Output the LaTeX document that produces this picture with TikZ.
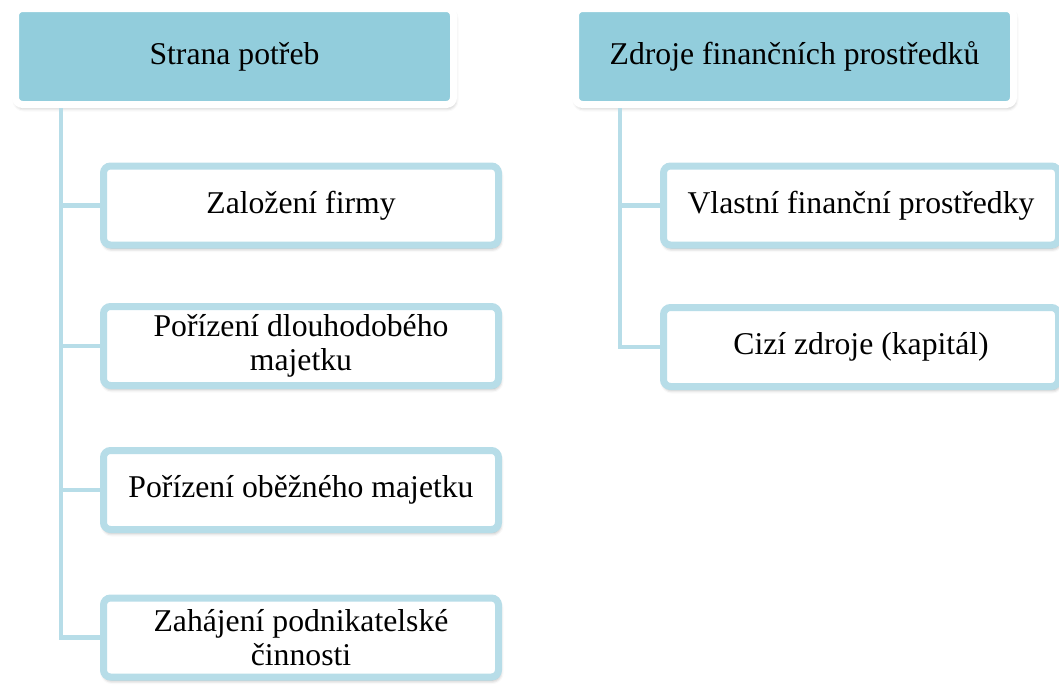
\documentclass[tikz,border=0pt]{standalone}
\usepackage{fontspec}
\setmainfont{Liberation Serif}
\usetikzlibrary{shadows.blur}
\definecolor{topfill}{HTML}{92CDDC}
\definecolor{edgecol}{HTML}{B7DDE8}
\begin{document}
\begin{tikzpicture}[x=1pt,y=-1pt,
  txt/.style={font=\fontsize{31.7}{33.5}\selectfont, align=center, text=black},
  topbox/.style={txt, rounded corners=7pt, fill=topfill, draw=white, line width=7pt,
    minimum width=438pt, minimum height=96pt, inner sep=0pt,
    blur shadow={shadow xshift=1pt, shadow yshift=-3pt, shadow blur radius=4pt, shadow opacity=35}},
  subbox/.style={txt, rounded corners=7pt, fill=white, draw=edgecol, line width=7pt,
    minimum width=395pt, minimum height=79pt, inner sep=0pt,
    blur shadow={shadow xshift=1pt, shadow yshift=-3pt, shadow blur radius=4pt, shadow opacity=40}},
  link/.style={draw=edgecol, line width=4.5pt}]
\useasboundingbox (0,0) rectangle (1059,686);
% left tree
\node[topbox] (L0) at (234.5,56.5) {Strana potřeb};
\node[subbox] (L1) at (301,205.5) {Založení firmy};
\node[subbox] (L2) at (301,346) {Pořízení dlouhodobého\\majetku};
\node[subbox] (L3) at (301,490) {Pořízení oběžného majetku};
\node[subbox] (L4) at (301,637.5) {Zahájení podnikatelské\\činnosti};
\coordinate (LX) at (61,0);
\draw[link] (L0.south -| LX) |- (L4.west);
\foreach \i in {1,2,3} \draw[link] (L\i.west -| LX) -- (L\i.west);
% right tree
\node[topbox] (R0) at (794.5,56.5) {Zdroje finančních prostředků};
\node[subbox] (R1) at (861,205.5) {Vlastní finanční prostředky};
\node[subbox] (R2) at (861,347) {Cizí zdroje (kapitál)};
\coordinate (RX) at (620,0);
\draw[link] (R0.south -| RX) |- (R2.west);
\draw[link] (R1.west -| RX) -- (R1.west);
\end{tikzpicture}
\end{document}
